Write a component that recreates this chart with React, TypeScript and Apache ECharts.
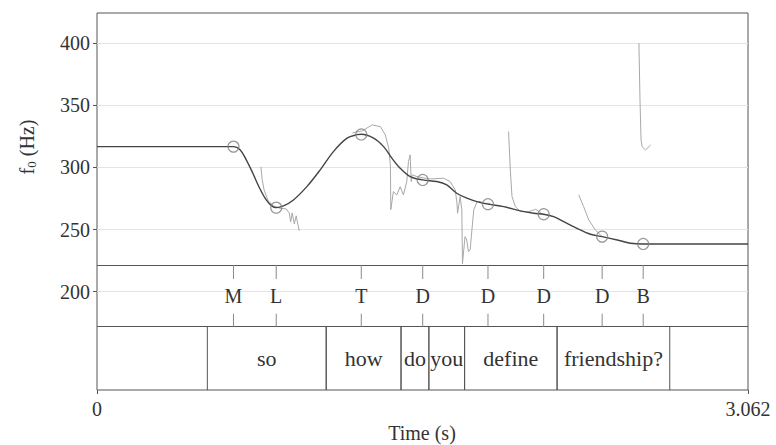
import React, { useEffect, useRef } from 'react';
import * as echarts from 'echarts';

// ---------- data ----------
const yTickValues = [200, 250, 300, 350, 400];
const xTickValues = [0, 3.062];
const xTickLabels = ['0', '3.062'];

const toneLabels = ['M', 'L', 'T', 'D', 'D', 'D', 'D', 'B'];
const toneTimes = [0.642, 0.843, 1.243, 1.532, 1.839, 2.101, 2.376, 2.569];
const toneF0 = [316.7, 267.6, 326.5, 289.9, 270.4, 262.3, 244.3, 238.4];

const words = ['so', 'how', 'do', 'you', 'define', 'friendship?'];
const wordStarts = [0.519, 1.078, 1.43, 1.561, 1.729, 2.164];
const wordEnds = [1.078, 1.43, 1.561, 1.729, 2.164, 2.694];

// stylized (smoothed) contour
const contourTimes = [0, 0.642, 0.673, 0.702, 0.733, 0.765, 0.796, 0.822, 0.843, 0.877, 0.924, 0.987, 1.05, 1.112, 1.176, 1.223, 1.243, 1.301, 1.348, 1.387, 1.426, 1.473, 1.532, 1.598, 1.645, 1.692, 1.74, 1.787, 1.839, 1.913, 1.992, 2.054, 2.101, 2.148, 2.195, 2.258, 2.321, 2.376, 2.447, 2.509, 2.569, 3.062];
const contourF0 = [316.7, 316.7, 314.1, 306.1, 295.3, 283.2, 273.8, 269.0, 267.6, 269.0, 273.8, 284.5, 298.0, 312.7, 323.5, 326.3, 326.6, 323.5, 316.7, 307.4, 299.3, 292.6, 289.9, 288.6, 285.9, 279.2, 275.2, 272.5, 270.4, 268.4, 265.0, 263.1, 262.3, 260.4, 256.4, 251.0, 246.2, 244.3, 241.6, 239.0, 238.4, 238.4];

// raw f0 track segments [time, Hz]
const raw1 = [[0.771, 300.4], [0.777, 290.0], [0.786, 281.9], [0.805, 273.0], [0.829, 269.0], [0.862, 267.0], [0.89, 266.6], [0.904, 263.4], [0.911, 256.1], [0.918, 263.4], [0.928, 254.5], [0.937, 261.0], [0.951, 248.9]];
const raw2 = [[1.201, 327.7], [1.248, 329.4], [1.294, 334.2], [1.333, 332.8], [1.356, 326.2], [1.372, 315.5], [1.38, 302.0], [1.382, 266.0], [1.394, 280.5], [1.41, 277.8], [1.426, 284.5], [1.441, 277.8], [1.457, 288.6], [1.465, 304.7], [1.473, 310.1], [1.478, 288.6], [1.483, 294.0], [1.505, 292.6], [1.535, 291.5], [1.568, 290.7], [1.63, 291.3], [1.661, 288.6], [1.685, 281.9], [1.693, 271.2], [1.696, 263.1], [1.708, 276.5], [1.716, 265.8], [1.719, 222.5], [1.731, 244.3], [1.739, 241.6], [1.747, 232.2], [1.755, 233.6], [1.772, 265.8], [1.788, 272.5], [1.803, 272.5], [1.819, 271.2], [1.85, 271.0]];
const raw3 = [[1.936, 328.8], [1.944, 298.0], [1.952, 276.5], [1.968, 268.4], [1.992, 264.4], [2.031, 264.4], [2.063, 266.3], [2.101, 261.7]];
const raw4 = [[2.266, 277.9], [2.289, 268.4], [2.313, 257.7], [2.344, 249.7], [2.376, 244.3]];
const raw5 = [[2.549, 400.0], [2.554, 354.3], [2.559, 322.1], [2.564, 316.7], [2.58, 314.0], [2.604, 318.0]];
const rawSegments = [raw1, raw2, raw3, raw4, raw5];

// ---------- layout constants ----------
const Y_MIN = 120.9;
const Y_MAX = 424.2;
const X_MAX = 3.062;
const TONE_TIER_TOP = 221.5;
const WORD_TIER_TOP = 171.8;
const FONT = '"Liberation Serif", "Times New Roman", serif';
const FRAME = '#555';
const TEXT = '#333';

export default function App() {
  const ref = useRef<HTMLDivElement>(null);

  useEffect(() => {
    document.body.style.margin = '0';
    const chart = echarts.init(ref.current!, undefined, { renderer: 'svg' });

    const rawSeries = rawSegments.map((seg, i) => ({
      type: 'line',
      name: 'raw' + i,
      data: seg,
      symbol: 'none',
      lineStyle: { color: '#a8a8a8', width: 1 },
      silent: true,
      z: 2,
    }));

    const option: any = {
      animation: false,
      grid: {
        left: 97,
        right: 28,
        top: 13,
        bottom: 55,
        show: true,
        borderColor: FRAME,
        borderWidth: 1,
        backgroundColor: 'transparent',
      },
      xAxis: {
        type: 'value',
        min: 0,
        max: X_MAX,
        axisLine: { show: false },
        splitLine: { show: false },
        axisTick: { show: true, length: 4, customValues: xTickValues, lineStyle: { color: FRAME } },
        axisLabel: {
          customValues: xTickValues,
          formatter: (v: number) => xTickLabels[xTickValues.indexOf(v)] ?? String(v),
          margin: 9,
          fontSize: 20,
          fontFamily: FONT,
          color: TEXT,
        },
      },
      yAxis: {
        type: 'value',
        min: Y_MIN,
        max: Y_MAX,
        axisLine: { show: false },
        axisTick: { show: true, length: 4, customValues: yTickValues, lineStyle: { color: FRAME } },
        axisLabel: {
          customValues: yTickValues,
          margin: 7,
          fontSize: 20,
          fontFamily: FONT,
          color: TEXT,
        },
        splitLine: { show: true, lineStyle: { color: '#e4e4e4', width: 1 } },
      },
      graphic: [
        {
          type: 'text',
          x: 27,
          y: 147,
          rotation: Math.PI / 2,
          style: {
            text: 'f{sub|0} (Hz)',
            fontSize: 20,
            fontFamily: FONT,
            fill: TEXT,
            align: 'center',
            verticalAlign: 'middle',
            rich: {
              sub: { fontSize: 13, fontFamily: FONT, fill: TEXT, padding: [9, 0, 0, 0] },
            },
          },
        },
        {
          type: 'text',
          x: 422,
          y: 433,
          style: {
            text: 'Time (s)',
            fontSize: 20,
            fontFamily: FONT,
            fill: TEXT,
            align: 'center',
            verticalAlign: 'middle',
          },
        },
      ],
      series: [
        ...rawSeries,
        {
          type: 'line',
          name: 'stylized',
          data: contourTimes.map((t, i) => [t, contourF0[i]]),
          symbol: 'none',
          smooth: 0.35,
          lineStyle: { color: '#444', width: 1.4 },
          silent: true,
          z: 3,
          markLine: {
            silent: true,
            symbol: 'none',
            label: { show: false },
            lineStyle: { color: FRAME, width: 1, type: 'solid' },
            data: [{ yAxis: TONE_TIER_TOP }, { yAxis: WORD_TIER_TOP }],
          },
        },
        {
          type: 'scatter',
          name: 'targets',
          data: toneTimes.map((t, i) => [t, toneF0[i]]),
          symbol: 'circle',
          symbolSize: 11,
          itemStyle: { color: 'rgba(255,255,255,0)', borderColor: '#808080', borderWidth: 1.2 },
          silent: true,
          z: 4,
        },
        {
          type: 'custom',
          name: 'tones',
          data: toneTimes.map((t) => [t, 200]),
          encode: { x: 0, y: 1 },
          silent: true,
          z: 5,
          renderItem: (params: any, api: any) => {
            const t = api.value(0);
            const top = api.coord([t, TONE_TIER_TOP]);
            const bot = api.coord([t, WORD_TIER_TOP]);
            const x = top[0];
            return {
              type: 'group',
              children: [
                { type: 'line', shape: { x1: x, y1: top[1], x2: x, y2: top[1] + 14 }, style: { stroke: '#8a8a8a', lineWidth: 1 } },
                { type: 'line', shape: { x1: x, y1: bot[1] - 13, x2: x, y2: bot[1] }, style: { stroke: '#8a8a8a', lineWidth: 1 } },
                {
                  type: 'text',
                  x,
                  y: (top[1] + bot[1]) / 2,
                  style: {
                    text: toneLabels[params.dataIndex],
                    fontSize: 20,
                    fontFamily: FONT,
                    fill: TEXT,
                    align: 'center',
                    verticalAlign: 'middle',
                    textAlign: 'center',
                    textVerticalAlign: 'middle',
                  },
                },
              ],
            };
          },
        },
        {
          type: 'custom',
          name: 'words',
          data: wordStarts.map((s, i) => [s, wordEnds[i]]),
          encode: { x: [0, 1] },
          silent: true,
          z: 5,
          renderItem: (params: any, api: any) => {
            const s = api.value(0);
            const e = api.value(1);
            const a = api.coord([s, WORD_TIER_TOP]);
            const b = api.coord([e, Y_MIN]);
            return {
              type: 'group',
              children: [
                { type: 'line', shape: { x1: a[0], y1: a[1], x2: a[0], y2: b[1] }, style: { stroke: FRAME, lineWidth: 1 } },
                { type: 'line', shape: { x1: b[0], y1: a[1], x2: b[0], y2: b[1] }, style: { stroke: FRAME, lineWidth: 1 } },
                {
                  type: 'text',
                  x: (a[0] + b[0]) / 2,
                  y: (a[1] + b[1]) / 2,
                  style: {
                    text: words[params.dataIndex],
                    fontSize: 22,
                    fontFamily: FONT,
                    fill: TEXT,
                    align: 'center',
                    verticalAlign: 'middle',
                    textAlign: 'center',
                    textVerticalAlign: 'middle',
                  },
                },
              ],
            };
          },
        },
      ],
    };

    chart.setOption(option);
    return () => chart.dispose();
  }, []);

  return (
    <div
      ref={ref}
      style={{ position: 'absolute', left: 0, top: 0, width: 776, height: 445, background: '#fff' }}
    />
  );
}
